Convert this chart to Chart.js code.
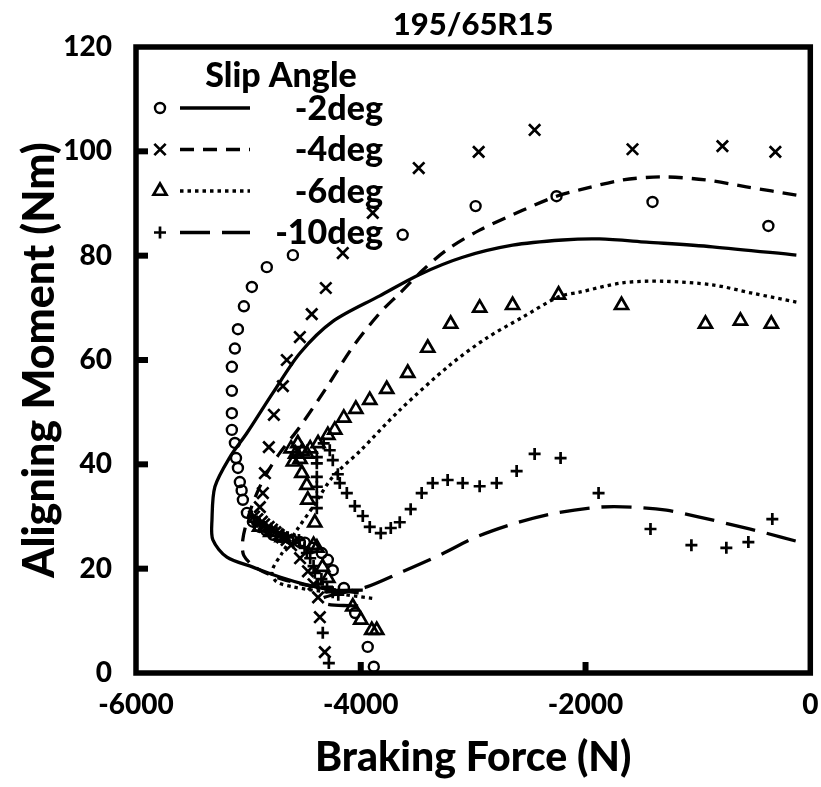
<!DOCTYPE html>
<html><head><meta charset="utf-8">
<script src="https://cdn.jsdelivr.net/npm/chart.js@4"></script>
<style>html,body{margin:0;padding:0;background:#fff}</style>
</head><body>
<canvas id="c" width="821" height="787"></canvas>
<script>
// ---- Data ----
const chartTitle = '195/65R15';
const xAxisTitle = 'Braking Force (N)';
const yAxisTitle = 'Aligning Moment (Nm)';
const legendTitle = 'Slip Angle';
const seriesNames = ['-2deg', '-4deg', '-6deg', '-10deg'];
const xTicks = [-6000, -4000, -2000, 0];
const yTicks = [0, 20, 40, 60, 80, 100, 120];

// measured points
const meas2X = [-373,-1404,-2258,-2978,-3627,-4604,-4836,-4969,-5040,-5093,-5120,-5147,-5147,-5147,-5147,-5120,-5110,-5093,-5076,-5060,-5049,-5013,-4960,-4900,-4840,-4780,-4700,-4613,-4542,-4498,-4427,-4347,-4293,-4249,-4150,-4050,-3938,-3884];
const meas2Y = [85.7,90.3,91.4,89.5,84.0,80.1,77.8,74.0,70.3,65.9,62.2,58.7,54.1,49.8,46.6,44.1,41.2,39.3,36.6,35.0,33.2,30.7,29.0,28.0,27.3,26.5,26.0,25.5,25.1,25.0,24.0,23.0,21.7,19.7,16.3,11.5,5.0,1.2];

const meas4X = [-311,-782,-1582,-2453,-2951,-3484,-3893,-4160,-4311,-4436,-4542,-4658,-4693,-4773,-4818,-4853,-4871,-4898,-4950,-4920,-4880,-4860,-4820,-4790,-4760,-4730,-4700,-4660,-4620,-4540,-4470,-4420,-4380,-4364,-4320];
const meas4Y = [99.9,101.0,100.4,104.1,99.9,96.8,88.2,80.5,73.8,68.8,64.4,60.0,55.0,49.5,43.3,38.3,34.5,31.8,30.0,29.5,29.0,28.5,28.0,27.5,27.0,26.5,26.0,25.5,24.5,22.0,19.5,17.0,14.5,10.7,4.0];

const meas6X = [-347,-622,-933,-1680,-2240,-2649,-2942,-3200,-3404,-3582,-3769,-3920,-4044,-4151,-4231,-4293,-4380,-4450,-4520,-4580,-4620,-4560,-4600,-4540,-4480,-4524,-4480,-4471,-4409,-4900,-4800,-4700,-4420,-4390,-4340,-4293,-4071,-4000,-3902,-3858];
const meas6Y = [66.9,67.5,66.9,70.5,72.5,70.5,70.0,66.9,62.3,57.5,54.4,52.3,50.6,48.9,46.6,45.6,44.0,43.0,42.5,42.0,43.0,44.0,40.5,41.0,42.0,38.3,36.0,33.2,28.8,28.0,27.0,26.0,24.5,24.0,20.3,18.2,12.7,10.2,8.2,8.2];

const meas10X = [-338,-551,-747,-1058,-1422,-1884,-2222,-2453,-2613,-2791,-2942,-3093,-3227,-3360,-3458,-3556,-3653,-3733,-3822,-3920,-3982,-4053,-4124,-4187,-4204,-4249,-4276,-4330,-4391,-4391,-4391,-4391,-4391,-4391,-4950,-4900,-4850,-4800,-4750,-4700,-4650,-4600,-4550,-4500,-4480,-4450,-4420,-4409,-4380,-4350,-4300,-4250,-4200,-4338,-4284];
const meas10Y = [29.5,25.1,24.0,24.5,27.6,34.5,41.2,42.0,38.7,36.4,35.8,36.4,37.0,36.4,34.5,31.4,28.9,27.8,26.8,28.0,30.1,32.0,34.5,36.4,38.1,40.8,42.7,44.0,41.4,40.2,37.6,35.7,33.7,31.6,29.0,28.5,28.0,27.5,27.0,26.5,26.0,25.0,25.5,24.0,23.0,22.0,20.5,19.2,17.0,18.0,16.5,15.5,15.0,7.7,1.9];

// model curves
const model2X = [-124,-871,-1458,-1876,-2204,-2649,-3093,-3476,-3831,-4249,-4542,-4782,-5013,-5164,-5298,-5324,-5316,-5191,-4960,-4720,-4480,-4249,-3982];
const model2Y = [80.1,81.7,82.6,83.2,83.0,82.0,79.7,76.4,72.3,67.4,61.3,53.7,46.0,41.4,35.7,29.3,25.5,22.2,20.3,18.4,16.9,15.9,15.9];

const model4X = [-124,-569,-924,-1316,-1671,-2053,-2258,-2560,-2942,-3236,-3449,-3653,-3831,-4071,-4302,-4542,-4720,-4836,-4924,-5000,-5050,-5040,-4920,-4700,-4400,-4000];
const model4Y = [91.6,93.2,94.5,95.1,94.5,92.6,91.4,88.7,84.9,81.1,77.2,72.8,69.0,62.5,54.8,47.2,42.2,38.3,34.5,30.0,25.5,22.5,20.0,18.0,16.5,15.3];

const model6X = [-124,-516,-871,-1316,-1671,-2053,-2240,-2560,-2880,-3209,-3653,-4009,-4249,-4427,-4569,-4700,-4790,-4750,-4600,-4300,-3890];
const model6Y = [71.1,72.8,74.4,75.1,74.8,73.0,72.1,68.2,64.2,59.0,50.4,42.5,37.6,31.8,27.4,23.0,19.5,17.5,16.5,15.5,14.3];

const model10X = [-130,-391,-693,-987,-1280,-1582,-1876,-2258,-2613,-2969,-3298,-3653,-3947,-4200,-4350,-4300,-4100,-3930];
const model10Y = [25.3,26.8,28.4,29.9,31.2,31.8,31.8,30.7,28.8,26.1,22.6,19.2,16.5,15.2,14.2,13.2,12.9,12.8];

// ---- Styles ----
const pointStyles = [
  {pointStyle: 'circle', radius: 5, borderWidth: 2.4},
  {pointStyle: 'crossRot', radius: 8, borderWidth: 2.7},
  {pointStyle: 'triangle', radius: 7.5, borderWidth: 2.7},
  {pointStyle: 'cross', radius: 6, borderWidth: 2.7}
];
const lineDashes = [[], [14, 9], [3.5, 4], [30, 12]];
const measX = [meas2X, meas4X, meas6X, meas10X];
const measY = [meas2Y, meas4Y, meas6Y, meas10Y];
const modelX = [model2X, model4X, model6X, model10X];
const modelY = [model2Y, model4Y, model6Y, model10Y];

const zip = (xs, ys) => xs.map((x, i) => ({x, y: ys[i]}));
const datasets = [];
seriesNames.forEach((name, i) => {
  datasets.push({
    label: name + ' model',
    data: zip(modelX[i], modelY[i]),
    showLine: true,
    borderColor: '#000',
    backgroundColor: '#000',
    borderWidth: 3.3,
    borderDash: lineDashes[i],
    borderCapStyle: 'butt',
    pointRadius: 0,
    tension: 0.3
  });
});
seriesNames.forEach((name, i) => {
  const s = pointStyles[i];
  datasets.push({
    label: name,
    data: zip(measX[i], measY[i]),
    showLine: false,
    pointStyle: s.pointStyle,
    pointRadius: s.radius,
    pointBorderWidth: s.borderWidth,
    pointBorderColor: '#000',
    pointBackgroundColor: 'rgba(0,0,0,0)',
    borderColor: '#000',
    backgroundColor: 'rgba(0,0,0,0)'
  });
});

const FONT = 'Lato';
const W = 900;
const framePlugin = {
  id: 'frame',
  afterDraw(chart) {
    const {ctx, chartArea: a, scales: {x, y}} = chart;
    ctx.save();
    ctx.strokeStyle = '#000';
    ctx.setLineDash([]);
    ctx.lineWidth = 5.5;
    ctx.strokeRect(a.left, a.top, a.right - a.left, a.bottom - a.top);
    ctx.lineWidth = 6;
    yTicks.forEach(v => {
      if (v <= y.min || v >= y.max) return;
      const py = y.getPixelForValue(v);
      ctx.beginPath(); ctx.moveTo(a.left, py); ctx.lineTo(a.left + 12, py); ctx.stroke();
    });
    xTicks.forEach(v => {
      if (v <= x.min || v >= x.max) return;
      const px = x.getPixelForValue(v);
      ctx.beginPath(); ctx.moveTo(px, a.bottom); ctx.lineTo(px, a.bottom - 11); ctx.stroke();
    });
    // chart title
    ctx.fillStyle = '#000';
    ctx.textBaseline = 'middle';
    ctx.textAlign = 'center';
    ctx.font = W + ' 31px ' + FONT;
    ctx.fillText(chartTitle, (a.left + a.right) / 2, 25);
    // legend
    ctx.font = W + ' 34px ' + FONT;
    ctx.fillText(legendTitle, a.left + 145, a.top + 29);
    seriesNames.forEach((name, i) => {
      const ry = a.top + 61 + i * 41.5;
      const s = pointStyles[i];
      ctx.setLineDash([]);
      ctx.lineWidth = s.borderWidth;
      ctx.fillStyle = 'rgba(0,0,0,0)';
      Chart.helpers.drawPoint(ctx, {pointStyle: s.pointStyle, radius: s.radius, rotation: 0, borderWidth: s.borderWidth}, a.left + 24, ry);
      ctx.setLineDash(lineDashes[i]);
      ctx.lineWidth = 3.3;
      ctx.lineCap = 'butt';
      ctx.beginPath(); ctx.moveTo(a.left + 44, ry); ctx.lineTo(a.left + 114, ry); ctx.stroke();
      ctx.setLineDash([]);
      ctx.fillStyle = '#000';
      ctx.textAlign = 'right';
      ctx.fillText(name, a.left + 247, ry + 1);
    });
    ctx.restore();
  }
};

new Chart(document.getElementById('c'), {
  type: 'scatter',
  data: {datasets},
  options: {
    responsive: false,
    animation: false,
    layout: {padding: {left: 0, right: 10, top: 47, bottom: 0}},
    plugins: {
      legend: {display: false},
      tooltip: {enabled: false},
      title: {display: false}
    },
    scales: {
      x: {
        type: 'linear', min: -6000, max: 0,
        afterBuildTicks: s => { s.ticks = xTicks.map(v => ({value: v})); },
        afterFit: s => { s.height = 114; s.paddingLeft = 0; s.paddingRight = 0; },
        grid: {display: false},
        border: {display: false},
        ticks: {color: '#000', font: {family: FONT, size: 28, weight: W}, padding: 7, maxRotation: 0, callback: v => String(v)},
        title: {display: true, text: xAxisTitle, color: '#000', font: {family: FONT, size: 41, weight: W}, padding: {top: 0, bottom: 5}}
      },
      y: {
        type: 'linear', min: 0, max: 120,
        afterBuildTicks: s => { s.ticks = yTicks.map(v => ({value: v})); },
        afterFit: s => { s.width = 136; s.paddingTop = 0; s.paddingBottom = 0; },
        grid: {display: false},
        border: {display: false},
        ticks: {color: '#000', font: {family: FONT, size: 28, weight: W}, padding: 16, callback: v => String(v)},
        title: {display: true, text: yAxisTitle, color: '#000', font: {family: FONT, size: 43, weight: W}, padding: {top: 14, bottom: 0}}
      }
    }
  },
  plugins: [framePlugin]
});
</script>
</body></html>
